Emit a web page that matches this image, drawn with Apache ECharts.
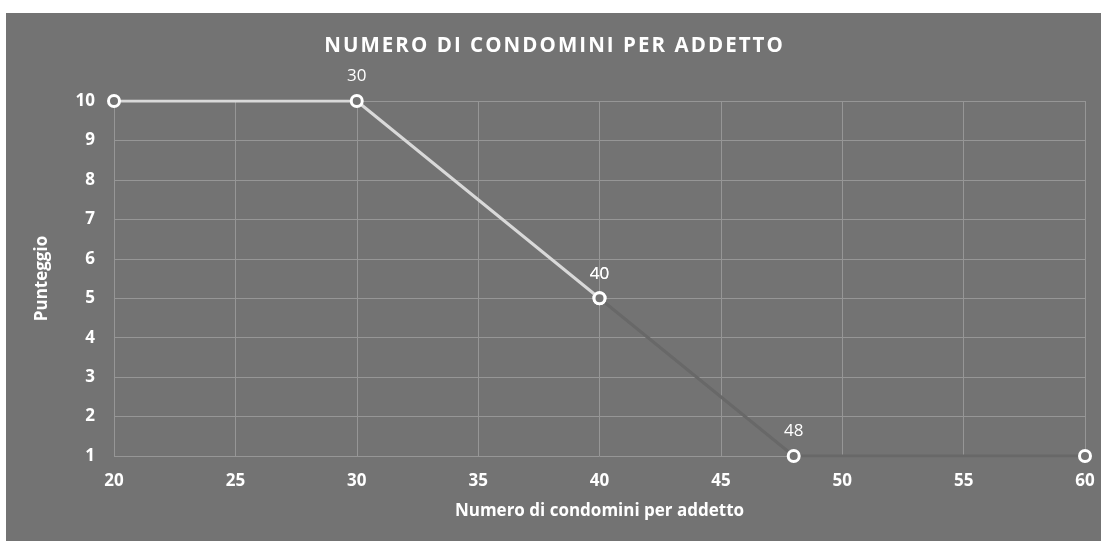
<!DOCTYPE html>
<html><head><meta charset="utf-8">
<script src="https://cdn.jsdelivr.net/npm/echarts@6/dist/echarts.min.js"></script>
<style>
html,body{margin:0;padding:0;background:#fff;}
#c{position:absolute;left:6px;top:13px;width:1095px;height:528px;background:#737373;}
</style></head>
<body><div id="c"></div>
<script>
const xValues = [20, 30, 40, 48, 60];
const yValues = [10, 10, 5, 1, 1];
const labeledX = [30, 40, 48];
const xTicks = [20, 25, 30, 35, 40, 45, 50, 55, 60];
const yTicks = [1, 2, 3, 4, 5, 6, 7, 8, 9, 10];
const lightUntilX = 40;
const titleText = 'NUMERO DI CONDOMINI PER ADDETTO';

const pts = xValues.map((x, i) => [x, yValues[i]]);
const lightPts = pts.filter(p => p[0] <= lightUntilX);
const darkPts = pts.filter(p => p[0] >= lightUntilX);
const FONT = '"Open Sans", sans-serif';
const spaced = titleText.split(' ').map(w => w.split('').join('\u200A')).join('\u200A \u200A');

function mkData(arr) {
  return arr.map(p => ({
    value: p,
    label: { show: labeledX.includes(p[0]) }
  }));
}

const chart = echarts.init(document.getElementById('c'), null, {renderer: 'canvas'});
chart.setOption({
  backgroundColor: '#737373',
  animation: false,
  title: {
    text: spaced,
    left: 'center', top: 18,
    textStyle: { color: '#fff', fontSize: 20.5, fontWeight: 'bold', fontFamily: FONT }
  },
  grid: { left: 108, right: 16, top: 88, bottom: 85 },
  xAxis: {
    type: 'value', min: 20, max: 60, interval: 5,
    name: 'Numero di condomini per addetto', nameLocation: 'middle', nameGap: 47,
    nameTextStyle: { color: '#fff', fontSize: 17, fontWeight: 'bold', fontFamily: FONT },
    axisLine: { show: false }, axisTick: { show: false },
    axisLabel: { color: '#fff', fontSize: 17, fontWeight: 'bold', fontFamily: FONT, margin: 17,
      formatter: v => xTicks.includes(v) ? String(v) : '' },
    splitLine: { show: true, lineStyle: { color: '#969696', width: 1 } }
  },
  yAxis: {
    type: 'value', min: 1, max: 10, interval: 1,
    name: 'Punteggio', nameLocation: 'middle', nameGap: 63, nameRotate: 90,
    nameTextStyle: { color: '#fff', fontSize: 17, fontWeight: 'bold', fontFamily: FONT },
    axisLine: { show: false }, axisTick: { show: false },
    axisLabel: { color: '#fff', fontSize: 17, fontWeight: 'bold', fontFamily: FONT, margin: 19,
      formatter: v => yTicks.includes(v) ? String(v) : '' },
    splitLine: { show: true, lineStyle: { color: '#969696', width: 1 } }
  },
  series: [
    {
      type: 'line', data: mkData(darkPts), z: 2,
      lineStyle: { color: '#686868', width: 3 },
      symbol: 'circle', symbolSize: 11,
      itemStyle: { color: '#737373', borderColor: '#fff', borderWidth: 3 },
      label: { position: 'top', distance: 9, color: '#fff', fontSize: 17, fontFamily: FONT,
        formatter: p => String(p.value[0]) }
    },
    {
      type: 'line', data: mkData(lightPts), z: 3,
      lineStyle: { color: '#d9d9d9', width: 3 },
      symbol: 'circle', symbolSize: 11,
      itemStyle: { color: '#737373', borderColor: '#fff', borderWidth: 3 },
      label: { position: 'top', distance: 9, color: '#fff', fontSize: 17, fontFamily: FONT,
        formatter: p => String(p.value[0]) }
    }
  ]
});
</script></body></html>
